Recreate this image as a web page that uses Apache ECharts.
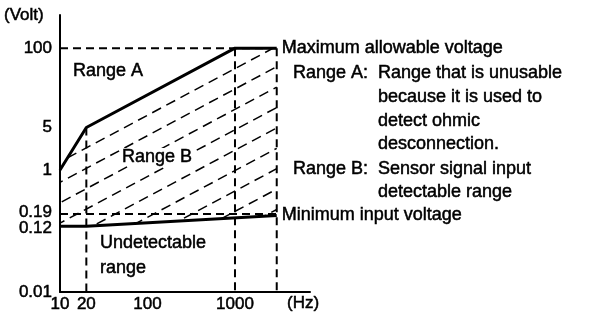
<!DOCTYPE html>
<html>
<head>
<meta charset="utf-8">
<script src="https://cdn.jsdelivr.net/npm/echarts@6/dist/echarts.min.js"></script>
<style>
  html, body { margin: 0; padding: 0; background: #fff; }
  #chart { width: 608px; height: 324px; }
</style>
</head>
<body>
<div id="chart"></div>
<script>
// Axis tick labels
const xTickValues = [10, 20, 100, 1000];
const yTickValues = [0.01, 0.12, 0.19, 1, 5, 100];

// Upper boundary: maximum allowable voltage vs. frequency
const maxHz = [10, 20, 1000, 3000];
const maxVolt = [1, 5, 100, 100];

// Lower boundary: minimum input voltage vs. frequency
const minHz = [10, 20, 3000];
const minVolt = [0.12, 0.12, 0.18];

// Dashed reference lines
const guideVolts = [100, 0.19];       // horizontal
const guideHz = [20, 1000, 3000];     // vertical
const guideTopVolt = [5, 100, 100];   // where each vertical starts
const floorVolt = 0.01;

const FONT = '"Liberation Sans", Arial, Helvetica, sans-serif';
const FS = 18;      // annotation text
const TICK_FS = 17; // axis tick labels
const INK = { textBorderColor: '#000', textBorderWidth: 0.5 };

const series = [];

// Hatched detectable region (Range B), clipped to the envelope polygon
series.push({
  type: 'custom',
  coordinateSystem: 'cartesian2d',
  silent: true,
  z: 1,
  data: [[maxHz[0], maxVolt[0]]],
  renderItem: function (params, api) {
    const poly = [];
    maxHz.forEach((h, i) => poly.push(api.coord([h, maxVolt[i]])));
    for (let i = minHz.length - 1; i >= 0; i--) poly.push(api.coord([minHz[i], minVolt[i]]));
    const a = api.coord([maxHz[1], maxVolt[1]]);
    const b = api.coord([maxHz[2], maxVolt[2]]);
    let dx = b[0] - a[0], dy = b[1] - a[1];
    const L = Math.hypot(dx, dy); dx /= L; dy /= L;
    const nx = -dy, ny = dx;
    let maxT = 0;
    poly.forEach(p => {
      const t = (p[0] - a[0]) * nx + (p[1] - a[1]) * ny;
      if (t > maxT) maxT = t;
    });
    const step = 18;
    const children = [];
    let k = 0;
    for (let t = step; t < maxT; t += step, k++) {
      const ox = a[0] + nx * t, oy = a[1] + ny * t;
      const us = [];
      for (let i = 0; i < poly.length; i++) {
        const p = poly[i], q = poly[(i + 1) % poly.length];
        const ex = q[0] - p[0], ey = q[1] - p[1];
        const den = dx * ey - dy * ex;
        if (Math.abs(den) < 1e-9) continue;
        const wx = p[0] - ox, wy = p[1] - oy;
        const u = (wx * ey - wy * ex) / den;
        const v = (wx * dy - wy * dx) / den;
        if (v >= -1e-9 && v <= 1 + 1e-9) us.push(u);
      }
      if (us.length < 2) continue;
      const u0 = Math.min(...us), u1 = Math.max(...us);
      if (u1 - u0 < 2) continue;
      children.push({
        type: 'line',
        shape: { x1: ox + dx * u0, y1: oy + dy * u0, x2: ox + dx * u1, y2: oy + dy * u1 },
        style: { stroke: '#000', lineWidth: 1.5, lineDash: [10, 6], lineDashOffset: (k * 7) % 16 }
      });
    }
    return { type: 'group', children: children };
  }
});

// Horizontal dashed guides
guideVolts.forEach(v => {
  series.push({
    type: 'line', silent: true, z: 2, symbol: 'none',
    data: [[maxHz[0], v], [maxHz[maxHz.length - 1], v]],
    lineStyle: { color: '#000', width: 2, type: [8, 5] }
  });
});

// Vertical dashed guides
guideHz.forEach((h, i) => {
  series.push({
    type: 'line', silent: true, z: 2, symbol: 'none',
    data: [[h, guideTopVolt[i]], [h, floorVolt]],
    lineStyle: { color: '#000', width: 2, type: [8, 5] }
  });
});

// Boundary lines
series.push({
  type: 'line', silent: true, z: 3, symbol: 'none',
  data: maxHz.map((h, i) => [h, maxVolt[i]]),
  lineStyle: { color: '#000', width: 3 },
  endLabel: Object.assign({
    show: true, formatter: 'Maximum allowable voltage',
    color: '#000', fontSize: FS, fontFamily: FONT, distance: 5
  }, INK)
});
series.push({
  type: 'line', silent: true, z: 3, symbol: 'none',
  data: minHz.map((h, i) => [h, minVolt[i]]),
  lineStyle: { color: '#000', width: 3 },
  endLabel: Object.assign({
    show: true, formatter: 'Minimum input voltage',
    color: '#000', fontSize: FS, fontFamily: FONT, distance: 5
  }, INK)
});

function txt(x, y, text, extra) {
  return {
    type: 'text', x: x, y: y, z: 10, silent: true,
    style: Object.assign({
      text: text, font: FS + 'px ' + FONT, fill: '#000',
      align: 'left', verticalAlign: 'middle',
      stroke: '#000', lineWidth: 0.5
    }, extra || {})
  };
}

const notes = [
  txt(4, 15, '(Volt)', { font: TICK_FS + 'px ' + FONT }),
  txt(287, 303, '(Hz)', { font: TICK_FS + 'px ' + FONT }),
  txt(73, 71, 'Range A'),
  txt(120, 157, 'Range B', { backgroundColor: '#fff', padding: [0, 2] }),
  txt(100, 243, 'Undetectable'),
  txt(100, 268, 'range'),
  txt(293, 73, 'Range A:'),
  txt(378, 73, 'Range that is unusable'),
  txt(378, 97, 'because it is used to'),
  txt(378, 121, 'detect ohmic'),
  txt(378, 144, 'desconnection.'),
  txt(293, 169, 'Range B:'),
  txt(378, 169, 'Sensor signal input'),
  txt(378, 192, 'detectable range')
];

// Closely spaced y labels get a little breathing room
function yLabel(v) {
  const s = String(parseFloat(v.toPrecision(3)));
  if (s === '0.19') return '{hi|' + s + '}';
  if (s === '0.12') return '{lo|' + s + '}';
  return s;
}

const chart = echarts.init(document.getElementById('chart'), null, { renderer: 'canvas' });
chart.setOption({
  backgroundColor: '#fff',
  animation: false,
  grid: { left: 60, top: 15, right: 298, bottom: 32, containLabel: false, outerBoundsMode: 'none' },
  xAxis: {
    type: 'log', logBase: 10, min: 10, max: 7200,
    axisLine: { show: true, lineStyle: { color: '#000', width: 2 } },
    axisTick: { show: false },
    minorTick: { show: false },
    splitLine: { show: false },
    axisLabel: Object.assign({
      customValues: xTickValues,
      formatter: v => String(Math.round(v)),
      color: '#000', fontSize: TICK_FS, fontFamily: FONT, margin: 4
    }, INK)
  },
  yAxis: {
    type: 'log', logBase: 10, min: 0.01, max: 350,
    axisLine: { show: true, lineStyle: { color: '#000', width: 2 } },
    axisTick: { show: false },
    minorTick: { show: false },
    splitLine: { show: false },
    axisLabel: Object.assign({
      customValues: yTickValues,
      formatter: yLabel,
      color: '#000', fontSize: TICK_FS, fontFamily: FONT, margin: 8,
      rich: {
        hi: { fontSize: TICK_FS, fontFamily: FONT, color: '#000', padding: [0, 0, 4, 0] },
        lo: { fontSize: TICK_FS, fontFamily: FONT, color: '#000', padding: [4, 0, 0, 0] }
      }
    }, INK)
  },
  graphic: notes,
  series: series
});
</script>
</body>
</html>
